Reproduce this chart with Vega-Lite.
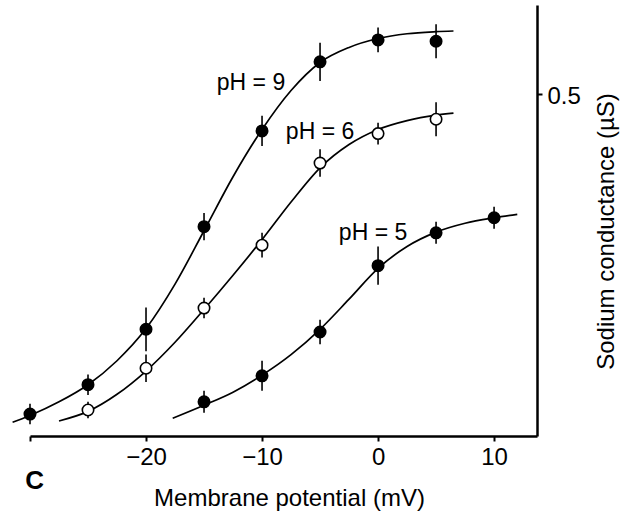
{
  "$schema": "https://vega.github.io/schema/vega-lite/v6.json",
  "width": 507,
  "height": 431,
  "autosize": {"type": "none"},
  "padding": {"left": 30, "top": 5, "right": 89, "bottom": 75},
  "background": "white",
  "config": {
    "view": {"stroke": null},
    "font": "Liberation Sans",
    "axis": {"grid": false}
  },
  "datasets": {
    "curves": [
      {"pH": "9", "V": -31.5, "G": 0.020}, {"pH": "9", "V": -30, "G": 0.030}, {"pH": "9", "V": -27.5, "G": 0.050},
      {"pH": "9", "V": -25, "G": 0.075}, {"pH": "9", "V": -22.5, "G": 0.110}, {"pH": "9", "V": -20, "G": 0.157},
      {"pH": "9", "V": -17.5, "G": 0.222}, {"pH": "9", "V": -15, "G": 0.300}, {"pH": "9", "V": -12.5, "G": 0.379},
      {"pH": "9", "V": -10, "G": 0.448}, {"pH": "9", "V": -7.5, "G": 0.505}, {"pH": "9", "V": -5, "G": 0.546},
      {"pH": "9", "V": -2.5, "G": 0.568}, {"pH": "9", "V": 0, "G": 0.581}, {"pH": "9", "V": 2.5, "G": 0.588},
      {"pH": "9", "V": 5, "G": 0.591}, {"pH": "9", "V": 6.5, "G": 0.592},
      {"pH": "6", "V": -27.5, "G": 0.022}, {"pH": "6", "V": -25, "G": 0.036}, {"pH": "6", "V": -22.5, "G": 0.061},
      {"pH": "6", "V": -20, "G": 0.095}, {"pH": "6", "V": -17.5, "G": 0.137}, {"pH": "6", "V": -15, "G": 0.185},
      {"pH": "6", "V": -12.5, "G": 0.235}, {"pH": "6", "V": -10, "G": 0.287}, {"pH": "6", "V": -7.5, "G": 0.342},
      {"pH": "6", "V": -5, "G": 0.392}, {"pH": "6", "V": -2.5, "G": 0.426}, {"pH": "6", "V": 0, "G": 0.448},
      {"pH": "6", "V": 2.5, "G": 0.461}, {"pH": "6", "V": 5, "G": 0.469}, {"pH": "6", "V": 6.5, "G": 0.472},
      {"pH": "5", "V": -17.7, "G": 0.026}, {"pH": "5", "V": -15, "G": 0.045}, {"pH": "5", "V": -12.5, "G": 0.064},
      {"pH": "5", "V": -10, "G": 0.089}, {"pH": "5", "V": -7.5, "G": 0.119}, {"pH": "5", "V": -5, "G": 0.156},
      {"pH": "5", "V": -2.5, "G": 0.200}, {"pH": "5", "V": 0, "G": 0.245}, {"pH": "5", "V": 2.5, "G": 0.277},
      {"pH": "5", "V": 5, "G": 0.298}, {"pH": "5", "V": 7.5, "G": 0.311}, {"pH": "5", "V": 10, "G": 0.319},
      {"pH": "5", "V": 12, "G": 0.324}
    ],
    "points": [
      {"pH": "9", "V": -30, "G": 0.032, "lo": 0.017, "hi": 0.047},
      {"pH": "9", "V": -25, "G": 0.075, "lo": 0.060, "hi": 0.090},
      {"pH": "9", "V": -20, "G": 0.156, "lo": 0.124, "hi": 0.188},
      {"pH": "9", "V": -15, "G": 0.306, "lo": 0.286, "hi": 0.326},
      {"pH": "9", "V": -10, "G": 0.446, "lo": 0.424, "hi": 0.468},
      {"pH": "9", "V": -5, "G": 0.547, "lo": 0.519, "hi": 0.575},
      {"pH": "9", "V": 0, "G": 0.579, "lo": 0.561, "hi": 0.597},
      {"pH": "9", "V": 5, "G": 0.577, "lo": 0.552, "hi": 0.602},
      {"pH": "6", "V": -25, "G": 0.038, "lo": 0.026, "hi": 0.050},
      {"pH": "6", "V": -20, "G": 0.099, "lo": 0.079, "hi": 0.119},
      {"pH": "6", "V": -15, "G": 0.187, "lo": 0.172, "hi": 0.202},
      {"pH": "6", "V": -10, "G": 0.279, "lo": 0.261, "hi": 0.297},
      {"pH": "6", "V": -5, "G": 0.399, "lo": 0.379, "hi": 0.419},
      {"pH": "6", "V": 0, "G": 0.442, "lo": 0.426, "hi": 0.458},
      {"pH": "6", "V": 5, "G": 0.463, "lo": 0.438, "hi": 0.488},
      {"pH": "5", "V": -15, "G": 0.050, "lo": 0.034, "hi": 0.066},
      {"pH": "5", "V": -10, "G": 0.088, "lo": 0.066, "hi": 0.110},
      {"pH": "5", "V": -5, "G": 0.152, "lo": 0.134, "hi": 0.170},
      {"pH": "5", "V": 0, "G": 0.249, "lo": 0.221, "hi": 0.277},
      {"pH": "5", "V": 5, "G": 0.297, "lo": 0.281, "hi": 0.313},
      {"pH": "5", "V": 10, "G": 0.319, "lo": 0.303, "hi": 0.335}
    ],
    "labels": [
      {"text": "pH = 9", "V": -10.95, "G": 0.516},
      {"text": "pH = 6", "V": -5.0, "G": 0.444},
      {"text": "pH = 5", "V": -0.43, "G": 0.297}
    ],
    "panel": [
      {"text": "C", "V": -29.6, "G": -0.066}
    ]
  },
  "encoding": {
    "x": {
      "field": "V",
      "type": "quantitative",
      "scale": {"domain": [-30, 13.7], "nice": false, "zero": false},
      "axis": {
        "orient": "bottom",
        "values": [-30, -20, -10, 0, 10],
        "labelExpr": "datum.value == -30 ? '' : datum.label",
        "domainColor": "black",
        "domainWidth": 2.5,
        "tickColor": "black",
        "tickWidth": 2,
        "tickSize": 5,
        "labelFontSize": 24,
        "labelColor": "black",
        "labelPadding": 4,
        "title": "Membrane potential (mV)",
        "titleFontSize": 24,
        "titleFontWeight": "normal",
        "titleColor": "black",
        "titleX": 259,
        "titleY": 50,
        "titleAlign": "center",
        "titleBaseline": "top"
      }
    },
    "y": {
      "field": "G",
      "type": "quantitative",
      "scale": {"domain": [0, 0.63], "nice": false, "zero": true},
      "axis": {
        "orient": "right",
        "values": [0.5],
        "format": ".1f",
        "domainColor": "black",
        "domainWidth": 2.5,
        "tickColor": "black",
        "tickWidth": 2,
        "tickSize": 5,
        "labelFontSize": 24,
        "labelColor": "black",
        "labelPadding": 5,
        "labelOffset": 3,
        "title": "Sodium conductance (µS)",
        "titleAngle": 270,
        "titleFontSize": 24,
        "titleFontWeight": "normal",
        "titleColor": "black",
        "titleAlign": "center",
        "titleBaseline": "top",
        "titleX": 57,
        "titleY": 226
      }
    }
  },
  "layer": [
    {
      "data": {"name": "curves"},
      "mark": {"type": "line", "color": "black", "strokeWidth": 1.7, "interpolate": "monotone"},
      "encoding": {"detail": {"field": "pH", "type": "nominal"}}
    },
    {
      "data": {"name": "points"},
      "mark": {"type": "rule", "color": "black", "strokeWidth": 1.6},
      "encoding": {
        "y": {"field": "lo", "type": "quantitative"},
        "y2": {"field": "hi"}
      }
    },
    {
      "data": {"name": "points"},
      "mark": {"type": "point", "shape": "circle", "size": 130, "stroke": "black", "strokeWidth": 1.6, "opacity": 1, "fillOpacity": 1},
      "encoding": {
        "fill": {
          "field": "pH",
          "type": "nominal",
          "scale": {"domain": ["9", "6", "5"], "range": ["black", "white", "black"]},
          "legend": null
        }
      }
    },
    {
      "data": {"name": "labels"},
      "mark": {"type": "text", "fontSize": 23, "color": "black", "align": "center", "baseline": "middle"},
      "encoding": {"text": {"field": "text", "type": "nominal"}}
    },
    {
      "data": {"name": "panel"},
      "mark": {"type": "text", "fontSize": 26, "fontWeight": "bold", "color": "black", "align": "center", "baseline": "middle"},
      "encoding": {"text": {"field": "text", "type": "nominal"}}
    }
  ]
}
